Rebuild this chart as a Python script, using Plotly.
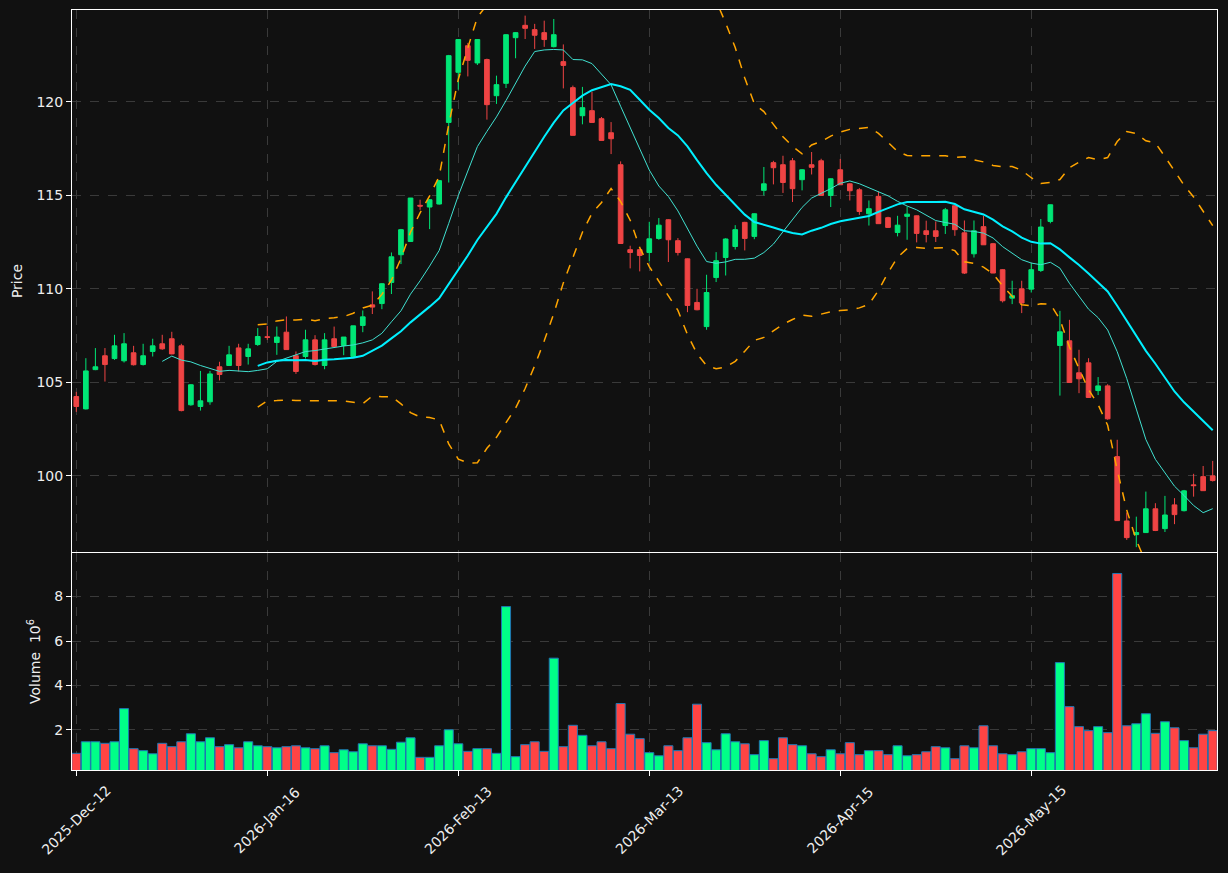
import numpy as np
import pandas as pd
import plotly.graph_objects as go

# ---------------- data ----------------
tick_idx = [0, 20, 40, 60, 80, 100]
tick_labels = ["2025-Dec-12", "2026-Jan-16", "2026-Feb-13", "2026-Mar-13", "2026-Apr-15", "2026-May-15"]

opens = [104.24, 103.58, 105.68, 106.42, 106.27, 106.15, 106.58, 105.95, 106.65, 107.06,
         107.33, 106.95, 103.80, 103.71, 103.96, 105.83, 105.90, 106.84, 106.38, 107.02,
         107.44, 107.13, 107.68, 106.42, 106.38, 107.27, 105.90, 107.33, 106.97, 106.38,
         108.04, 109.14, 109.21, 110.34, 111.82, 112.53, 114.46, 114.37, 114.53, 118.89,
         121.57, 122.99, 122.07, 122.25, 120.32, 120.98, 123.42, 124.08, 123.85, 123.69,
         122.94, 122.14, 120.75, 119.25, 119.52, 119.09, 118.34, 116.63, 112.09, 112.09,
         111.94, 112.69, 113.69, 112.57, 111.60, 109.27, 107.98, 110.60, 111.67, 112.26,
         113.55, 112.80, 115.26, 116.74, 116.63, 116.84, 115.83, 116.63, 116.84, 114.99,
         116.36, 115.61, 115.29, 114.01, 114.94, 113.80, 113.01, 113.87, 113.90, 113.10,
         113.10, 113.38, 114.44, 112.99, 111.87, 113.32, 112.41, 111.02, 109.50, 110.00,
         109.98, 110.98, 113.60, 106.97, 107.22, 105.51, 106.04, 104.56, 104.81, 101.03,
         97.59, 96.86, 96.97, 98.24, 97.18, 98.45, 98.14, 99.52, 99.96, 100.00]
highs = [104.49, 106.29, 106.83, 106.83, 107.54, 107.63, 106.95, 107.06, 107.33, 107.54,
         107.70, 107.06, 104.90, 105.61, 105.61, 106.10, 106.95, 107.06, 107.06, 107.90,
         108.02, 107.98, 108.52, 106.65, 107.81, 107.52, 107.63, 107.98, 107.42, 108.02,
         108.84, 109.86, 110.30, 111.94, 113.20, 114.85, 114.76, 114.80, 115.80, 122.50,
         123.35, 123.14, 123.35, 122.30, 121.39, 123.60, 123.72, 124.60, 124.16, 124.33,
         124.42, 123.06, 120.86, 120.79, 120.53, 119.18, 118.91, 116.81, 112.30, 112.12,
         113.58, 113.78, 113.72, 112.71, 111.62, 110.00, 110.75, 111.96, 112.70, 113.40,
         113.58, 114.03, 116.51, 116.84, 117.11, 116.99, 116.40, 117.31, 116.95, 115.90,
         116.94, 115.65, 115.38, 114.72, 115.20, 113.85, 113.90, 114.40, 113.92, 113.64,
         113.60, 114.32, 114.46, 113.65, 113.65, 113.90, 112.45, 111.05, 110.43, 110.43,
         111.37, 113.73, 114.50, 108.82, 108.34, 106.74, 106.29, 105.28, 104.90, 101.93,
         98.04, 97.82, 99.16, 98.54, 98.93, 98.81, 99.25, 100.11, 100.53, 100.80]
lows = [103.42, 103.55, 105.65, 105.04, 106.20, 106.06, 105.90, 105.90, 106.38, 106.74,
        106.50, 103.45, 103.75, 103.49, 103.80, 105.10, 105.88, 105.58, 105.95, 106.95,
        107.27, 106.47, 106.75, 105.45, 106.27, 105.90, 105.70, 106.85, 106.45, 106.35,
        107.68, 108.65, 108.91, 109.72, 111.32, 112.50, 114.22, 113.19, 114.50, 115.68,
        120.64, 121.35, 121.96, 119.04, 119.88, 120.73, 122.32, 123.35, 122.82, 122.93,
        122.90, 120.71, 118.20, 118.79, 118.89, 117.93, 117.20, 112.42, 111.09, 110.93,
        111.46, 112.62, 111.43, 111.78, 108.75, 108.85, 107.81, 110.36, 110.71, 112.10,
        112.05, 112.65, 114.99, 115.58, 115.12, 114.64, 115.26, 116.11, 114.99, 114.37,
        115.56, 114.72, 113.95, 113.38, 113.48, 113.25, 112.80, 112.62, 112.48, 112.48,
        112.50, 112.93, 112.83, 110.79, 111.67, 112.35, 110.84, 109.27, 109.18, 108.70,
        109.80, 110.90, 113.50, 104.29, 104.99, 104.42, 104.19, 104.32, 103.00, 97.60,
        96.58, 96.19, 96.95, 97.05, 97.00, 97.42, 98.10, 98.89, 99.20, 99.70]
closes = [103.71, 105.61, 105.83, 105.95, 106.95, 107.06, 105.94, 106.42, 106.95, 106.79,
          106.52, 103.49, 104.87, 104.01, 105.45, 105.42, 106.47, 105.90, 106.79, 107.45,
          107.40, 107.42, 106.75, 105.58, 107.27, 105.95, 107.27, 106.91, 107.42, 108.02,
          108.50, 109.02, 110.27, 111.71, 113.16, 114.85, 114.42, 114.76, 115.78, 122.46,
          123.32, 122.21, 123.32, 119.84, 120.91, 123.58, 123.69, 123.92, 123.55, 123.32,
          123.58, 121.94, 118.20, 119.68, 118.89, 117.93, 118.02, 112.42, 111.94, 111.78,
          112.67, 113.40, 112.62, 111.94, 109.11, 108.88, 109.80, 111.50, 112.66, 113.16,
          112.69, 114.01, 115.61, 116.47, 115.68, 115.35, 116.36, 116.49, 114.99, 115.88,
          115.56, 115.24, 114.13, 114.28, 113.48, 113.28, 113.40, 113.99, 112.96, 112.90,
          112.80, 114.22, 113.16, 110.84, 113.10, 112.35, 110.84, 109.36, 109.63, 109.24,
          111.02, 113.30, 114.49, 107.70, 104.99, 105.19, 104.19, 104.81, 103.05, 97.61,
          96.70, 96.97, 98.24, 97.08, 97.91, 97.93, 99.20, 99.48, 99.21, 99.75]
volumes_m = [0.95, 1.47, 1.47, 1.40, 1.47, 2.96, 1.16, 1.07, 0.93, 1.40,
             1.25, 1.47, 1.83, 1.47, 1.65, 1.25, 1.34, 1.20, 1.47, 1.29,
             1.25, 1.20, 1.25, 1.29, 1.20, 1.16, 1.29, 0.98, 1.11, 1.02,
             1.38, 1.29, 1.29, 1.13, 1.45, 1.65, 0.77, 0.77, 1.29, 2.01,
             1.38, 1.04, 1.16, 1.16, 0.95, 7.55, 0.80, 1.34, 1.47, 1.04,
             5.23, 1.25, 2.21, 1.76, 1.29, 1.47, 1.16, 3.19, 1.81, 1.61,
             0.98, 0.84, 1.29, 1.07, 1.65, 3.16, 1.43, 1.11, 1.83, 1.47,
             1.38, 0.89, 1.52, 0.71, 1.65, 1.34, 1.29, 0.93, 0.80, 1.11,
             0.93, 1.43, 0.89, 1.07, 1.07, 0.89, 1.29, 0.84, 0.89, 1.02,
             1.25, 1.20, 0.71, 1.29, 1.20, 2.19, 1.29, 0.93, 0.89, 1.02,
             1.16, 1.16, 0.98, 5.03, 3.05, 2.15, 1.97, 2.15, 1.88, 9.04,
             2.19, 2.28, 2.73, 1.85, 2.37, 2.10, 1.52, 1.20, 1.81, 1.97]

# ---------------- derived ----------------
x = list(range(len(closes)))
cl = pd.Series(closes)
sma10 = cl.rolling(10).mean()
sma20 = cl.rolling(20).mean()
std20 = cl.rolling(20).std(ddof=0)
bb_up = sma20 + 2 * std20
bb_lo = sma20 - 2 * std20

UP = "#00e676"
DN = "#ef4444"
VUP = "#00ff88"
VDN = "#ff4444"
BG = "#111111"
GRID = "#3a3a3a"
FONT = "DejaVu Sans"
TXT = "#eeeeee"

vol_colors = [VUP if c >= o else VDN for o, c in zip(opens, closes)]

fig = go.Figure()
fig.add_trace(go.Candlestick(
    x=x, open=opens, high=highs, low=lows, close=closes,
    increasing=dict(line=dict(color=UP, width=1), fillcolor=UP),
    decreasing=dict(line=dict(color=DN, width=1), fillcolor=DN),
    whiskerwidth=0, xaxis="x", yaxis="y", showlegend=False))
fig.add_trace(go.Scatter(x=x, y=sma10, mode="lines", line=dict(color="#40e0d0", width=1),
                         xaxis="x", yaxis="y", showlegend=False))
fig.add_trace(go.Scatter(x=x, y=sma20, mode="lines", line=dict(color="#00f0ff", width=2),
                         xaxis="x", yaxis="y", showlegend=False))
fig.add_trace(go.Scatter(x=x, y=bb_up, mode="lines", line=dict(color="#ffa500", width=1.5, dash="dash"),
                         xaxis="x", yaxis="y", showlegend=False))
fig.add_trace(go.Scatter(x=x, y=bb_lo, mode="lines", line=dict(color="#ffa500", width=1.5, dash="dash"),
                         xaxis="x", yaxis="y", showlegend=False))
fig.add_trace(go.Bar(x=x, y=volumes_m, marker=dict(color=vol_colors, line=dict(color="#1f77b4", width=1)),
                     xaxis="x2", yaxis="y2", showlegend=False))

axis_common = dict(showline=True, mirror=True, linecolor="white", linewidth=1,
                   showgrid=True, gridcolor=GRID, griddash="dash", gridwidth=1,
                   zeroline=False, tickfont=dict(color=TXT, size=14, family=FONT))

annotations = [dict(x=xi, y=-0.066, xref="x2", yref="paper", text=lab, textangle=-45,
                    showarrow=False, xanchor="center", yanchor="middle",
                    font=dict(size=14, color=TXT, family=FONT))
               for xi, lab in zip(tick_idx, tick_labels)]

fig.update_layout(
    width=1228, height=873,
    paper_bgcolor=BG, plot_bgcolor=BG,
    margin=dict(l=72, r=11, t=10, b=103),
    font=dict(family=FONT, color=TXT, size=14),
    bargap=0.05,
    annotations=annotations,
    xaxis=dict(domain=[0, 1], anchor="y", range=[-0.45, 119.45], tickvals=tick_idx,
               ticktext=tick_labels, showticklabels=False, ticks="",
               rangeslider=dict(visible=False), **axis_common),
    yaxis=dict(domain=[0.2868, 1], anchor="x", range=[95.93, 124.9],
               tickvals=[100, 105, 110, 115, 120], ticks="outside", ticklen=5, tickcolor="white",
               title=dict(text="Price", font=dict(size=14, color=TXT, family=FONT), standoff=10),
               **axis_common),
    xaxis2=dict(domain=[0, 1], anchor="y2", matches="x", range=[-0.45, 119.45], tickvals=tick_idx,
                ticktext=tick_labels, showticklabels=False, ticks="outside", ticklen=5, tickcolor="white",
                **axis_common),
    yaxis2=dict(domain=[0, 0.2855], anchor="x2", range=[0.2, 9.96],
                tickvals=[2, 4, 6, 8], ticks="outside", ticklen=5, tickcolor="white",
                title=dict(text="Volume  10<sup>6</sup>", font=dict(size=14, color=TXT, family=FONT), standoff=10),
                **axis_common),
)

fig.write_html("out.html")
